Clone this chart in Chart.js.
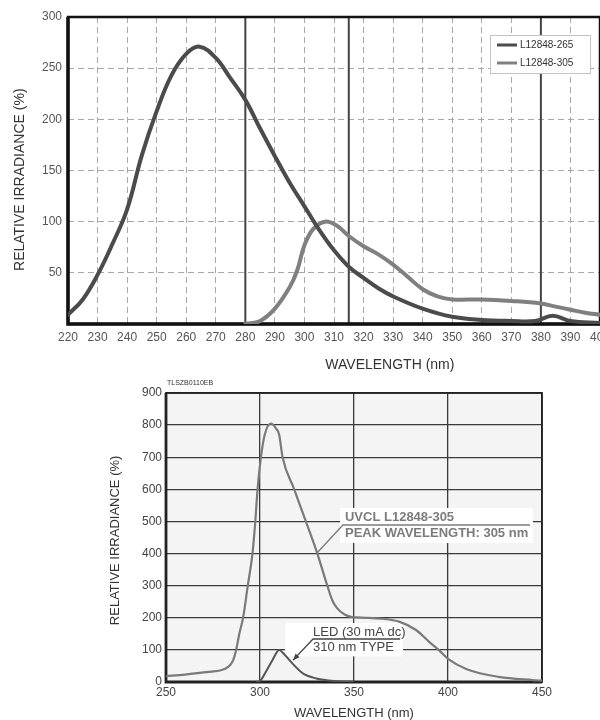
<!DOCTYPE html>
<html lang="en">
<head>
<meta charset="UTF-8">
<title>Relative irradiance – L12848</title>
<script src="https://cdn.jsdelivr.net/npm/chart.js"></script>
<style>
  html, body { margin: 0; padding: 0; background: #fff; overflow: hidden; }
  #wrap { position: relative; width: 600px; height: 720px; overflow: hidden; }
  #top { position: absolute; left: 0; top: 0; }
  #bottom { position: absolute; left: 0; top: 370px; }
</style>
</head>
<body>
<div id="wrap">
  <canvas id="top" width="640" height="378"></canvas>
  <canvas id="bottom" width="600" height="350"></canvas>
</div>
<script>
// ---- upper chart: two lamps ----
const wl265  = [220, 225, 230, 235, 240, 245, 250, 255, 260, 264.5, 270, 275, 280, 285, 290, 295, 300, 305, 310, 315, 320, 325, 330, 340, 350, 360, 370, 378, 384, 390, 400];
const irr265 = [9, 24, 48, 78, 112, 165, 208, 243, 264, 271, 260, 240, 219, 191, 164, 138, 115, 92, 72, 56, 45, 35, 27, 15, 7, 4, 3, 3, 8, 3, 1];
const wl305  = [280, 285, 290, 295, 297.5, 300, 303, 307, 311, 315, 320, 325, 330, 335, 340, 345, 350, 360, 370, 380, 385, 390, 395, 400];
const irr305 = [0, 3, 15, 36, 52, 77, 93, 100, 96, 86, 76, 68, 58, 46, 34, 27, 24, 24, 22.5, 20, 17, 14, 11, 9];
const topLabels = ['L12848-265', 'L12848-305'];
const topRefLines = [280, 315, 380];

// ---- lower chart: UVCL vs LED ----
const wlUvcl  = [250, 260, 270, 280, 283, 285.5, 287.3, 289, 291, 293.5, 296, 297.5, 298.7, 300.5, 302.5, 305.8, 308.5, 310.2, 312, 318.2, 324.4, 330.5, 335.8, 338.5, 341, 345, 349, 356, 365, 374, 383, 390, 395, 400, 410, 427, 445, 450];
const irrUvcl = [18, 23, 30, 38, 47, 65, 100, 150, 200, 300, 400, 500, 600, 700, 770, 805, 790, 770, 700, 600, 500, 400, 300, 254, 230, 210, 202, 200, 197, 188, 162, 125, 100, 72, 40, 16, 6, 4];
const wlLed   = [298, 300, 303.5, 306.6, 310.2, 312, 314.2, 317.7, 323, 330, 340, 350];
const irrLed  = [0, 3, 36, 68, 100, 92, 78, 55, 26, 11, 3, 1];

const FONT = "'Liberation Sans', Arial, sans-serif";
const pts = (xs, ys) => xs.map((x, i) => ({ x: x, y: ys[i] }));

// frame + reference lines + plot background
const frame = {
  id: 'frame',
  beforeDraw(chart, args, o) {
    if (!o.bg) return;
    const { ctx, chartArea: a } = chart;
    ctx.save();
    ctx.fillStyle = o.bg;
    ctx.fillRect(a.left, a.top, a.right - a.left, a.bottom - a.top);
    ctx.restore();
  },
  beforeDatasetsDraw(chart, args, o) {
    const { ctx, chartArea: a, scales } = chart;
    ctx.save();
    (o.refLines || []).forEach(v => {
      const x = scales.x.getPixelForValue(v);
      ctx.strokeStyle = o.refColor;
      ctx.lineWidth = o.refWidth;
      ctx.beginPath(); ctx.moveTo(x, a.top); ctx.lineTo(x, a.bottom); ctx.stroke();
    });
    ctx.strokeStyle = o.color;
    ctx.lineWidth = o.width;
    ctx.strokeRect(a.left, a.top, a.right - a.left, a.bottom - a.top);
    ctx.lineWidth = o.width + 1;
    ctx.beginPath(); ctx.moveTo(a.left, a.top); ctx.lineTo(a.left, a.bottom); ctx.lineTo(a.right, a.bottom); ctx.stroke();
    ctx.restore();
  }
};

// axis titles drawn relative to the plot area
const titles = {
  id: 'titles',
  afterDraw(chart, args, o) {
    const { ctx, chartArea: a } = chart;
    ctx.save();
    ctx.fillStyle = o.color;
    ctx.font = o.font;
    ctx.textAlign = 'center';
    ctx.textBaseline = 'middle';
    ctx.fillText(o.x, a.left + (a.right - a.left) * o.xAt, a.bottom + o.xOff);
    ctx.translate(o.yX, a.top + (a.bottom - a.top) * o.yAt);
    ctx.rotate(-Math.PI / 2);
    ctx.fillText(o.y, 0, 0);
    ctx.restore();
    if (o.note) {
      ctx.save();
      ctx.fillStyle = '#333';
      ctx.font = '7px ' + FONT;
      ctx.textBaseline = 'middle';
      ctx.fillText(o.note, a.left + 1, a.top - 10);
      ctx.restore();
    }
  }
};

// boxed legend inside the plot (upper chart)
const boxLegend = {
  id: 'boxLegend',
  afterDatasetsDraw(chart, args, o) {
    if (!o.show) return;
    const { ctx, chartArea: a } = chart;
    const ds = chart.data.datasets;
    const x0 = a.right - o.right - o.width, y0 = a.top + o.top;
    const h = ds.length * o.rowH + 2;
    ctx.save();
    ctx.fillStyle = '#fff';
    ctx.fillRect(x0, y0, o.width, h);
    ctx.strokeStyle = '#c4c4c4';
    ctx.lineWidth = 1;
    ctx.strokeRect(x0 + 0.5, y0 + 0.5, o.width, h);
    ctx.font = '10px ' + FONT;
    ctx.textBaseline = 'middle';
    ds.forEach((d, i) => {
      const y = y0 + 10 + i * o.rowH;
      ctx.strokeStyle = d.borderColor;
      ctx.lineWidth = 3;
      ctx.beginPath(); ctx.moveTo(x0 + 7, y); ctx.lineTo(x0 + 27, y); ctx.stroke();
      ctx.fillStyle = '#333';
      ctx.fillText(d.label, x0 + 30, y);
    });
    ctx.restore();
  }
};

// callout labels (lower chart), placed in data units
const callouts = {
  id: 'callouts',
  beforeDatasetsDraw(chart, args, o) {
    const { ctx, scales: { x, y } } = chart;
    const px = v => x.getPixelForValue(v), py = v => y.getPixelForValue(v);
    (o.items || []).forEach(c => {
      ctx.save();
      ctx.fillStyle = '#fff';
      ctx.fillRect(px(c.box[0]), py(c.box[1]), px(c.box[2]) - px(c.box[0]), py(c.box[3]) - py(c.box[1]));
      ctx.fillStyle = c.color;
      ctx.font = c.font;
      ctx.textBaseline = 'middle';
      c.lines.forEach((t, i) => ctx.fillText(t, px(c.textX), py(c.textY[i])));
      ctx.strokeStyle = c.color;
      ctx.lineWidth = 1.3;
      ctx.beginPath();
      ctx.moveTo(px(c.rule[1]), py(c.rule[2]));
      ctx.lineTo(px(c.rule[0]), py(c.rule[2]));
      const tx = px(c.tip[0]), ty = py(c.tip[1]);
      ctx.lineTo(tx, ty);
      ctx.stroke();
      if (c.arrow) {
        const ang = Math.atan2(ty - py(c.rule[2]), tx - px(c.rule[0]));
        ctx.beginPath();
        ctx.moveTo(tx, ty);
        ctx.lineTo(tx - 7 * Math.cos(ang - 0.4), ty - 7 * Math.sin(ang - 0.4));
        ctx.lineTo(tx - 7 * Math.cos(ang + 0.4), ty - 7 * Math.sin(ang + 0.4));
        ctx.closePath();
        ctx.fillStyle = c.color;
        ctx.fill();
      }
      ctx.restore();
    });
  }
};

Chart.register(frame, titles, boxLegend, callouts);

// upper chart
new Chart(document.getElementById('top'), {
  type: 'line',
  data: {
    datasets: [
      { label: topLabels[0], data: pts(wl265, irr265), borderColor: '#4b4b4b', borderWidth: 4, pointRadius: 0, tension: 0.4, borderCapStyle: 'round' },
      { label: topLabels[1], data: pts(wl305, irr305), borderColor: '#808080', borderWidth: 4, pointRadius: 0, tension: 0.4, borderCapStyle: 'round' }
    ]
  },
  options: {
    responsive: false,
    animation: false,
    layout: { padding: { top: 17, right: 40, left: 0, bottom: 0 } },
    plugins: {
      legend: { display: false },
      tooltip: { enabled: false },
      frame: { color: '#111', width: 2.5, refLines: topRefLines, refColor: '#444', refWidth: 2 },
      titles: { x: 'WAVELENGTH (nm)', y: 'RELATIVE IRRADIANCE (%)', font: '14px ' + FONT, color: '#333', xAt: 0.605, xOff: 41, yX: 20, yAt: 0.53 },
      boxLegend: { show: true, right: 10, top: 18, width: 100, rowH: 18 }
    },
    scales: {
      x: {
        type: 'linear', min: 220, max: 400,
        afterFit: s => { s.height = 54; },
        ticks: { stepSize: 10, autoSkip: false, maxRotation: 0, padding: 6, color: '#555', font: { family: FONT, size: 12 } },
        grid: { color: '#a8a8a8', lineWidth: 1, drawTicks: false },
        border: { display: false, dash: [6, 4] }
      },
      y: {
        min: 0, max: 300,
        afterFit: s => { s.width = 68; },
        ticks: { stepSize: 50, padding: 6, color: '#555', font: { family: FONT, size: 12 }, callback: v => v === 0 ? '' : v },
        grid: { color: '#a8a8a8', lineWidth: 1, drawTicks: false },
        border: { display: false, dash: [6, 4] }
      }
    }
  }
});

// lower chart
new Chart(document.getElementById('bottom'), {
  type: 'line',
  data: {
    datasets: [
      { label: 'UVCL L12848-305', data: pts(wlUvcl, irrUvcl), borderColor: '#7a7a7a', borderWidth: 2.2, pointRadius: 0, cubicInterpolationMode: 'monotone' },
      { label: 'LED (30 mA dc) 310 nm TYPE', data: pts(wlLed, irrLed), borderColor: '#555', borderWidth: 2, pointRadius: 0, cubicInterpolationMode: 'monotone' }
    ]
  },
  options: {
    responsive: false,
    animation: false,
    layout: { padding: { top: 23, right: 58, left: 0, bottom: 0 } },
    plugins: {
      legend: { display: false },
      tooltip: { enabled: false },
      frame: { bg: '#f4f4f4', color: '#222', width: 1.8 },
      titles: { x: 'WAVELENGTH (nm)', y: 'RELATIVE IRRADIANCE (%)', font: '13px ' + FONT, color: '#333', xAt: 0.5, xOff: 31, yX: 115, yAt: 0.51, note: 'TLSZB0110EB' },
      callouts: {
        items: [
          { lines: ['UVCL L12848-305', 'PEAK WAVELENGTH: 305 nm'], font: 'bold 13px ' + FONT, color: '#7c7c7c',
            box: [342.6, 541.9, 445.2, 432.9], textX: 345.2, textY: [514, 464], rule: [344.1, 443.6, 489], tip: [330.3, 401.7], arrow: false },
          { lines: ['LED (30 mA dc)', '310 nm TYPE'], font: '13px ' + FONT, color: '#444',
            box: [313.3, 183.7, 376.1, 80], textX: 328.2, textY: [155.7, 109], rule: [328.2, 374.5, 133.9], tip: [317.6, 68], arrow: true }
        ]
      }
    },
    scales: {
      x: {
        type: 'linear', min: 250, max: 450,
        afterFit: s => { s.height = 38; },
        ticks: { stepSize: 50, maxRotation: 0, padding: 3, color: '#444', font: { family: FONT, size: 12 } },
        grid: { color: '#3a3a3a', lineWidth: 1.3, drawTicks: false },
        border: { display: false }
      },
      y: {
        min: 0, max: 900,
        afterFit: s => { s.width = 166; },
        ticks: { stepSize: 100, padding: 4, color: '#444', font: { family: FONT, size: 12 } },
        grid: { color: '#3a3a3a', lineWidth: 1.3, drawTicks: false },
        border: { display: false }
      }
    }
  }
});
</script>
</body>
</html>
